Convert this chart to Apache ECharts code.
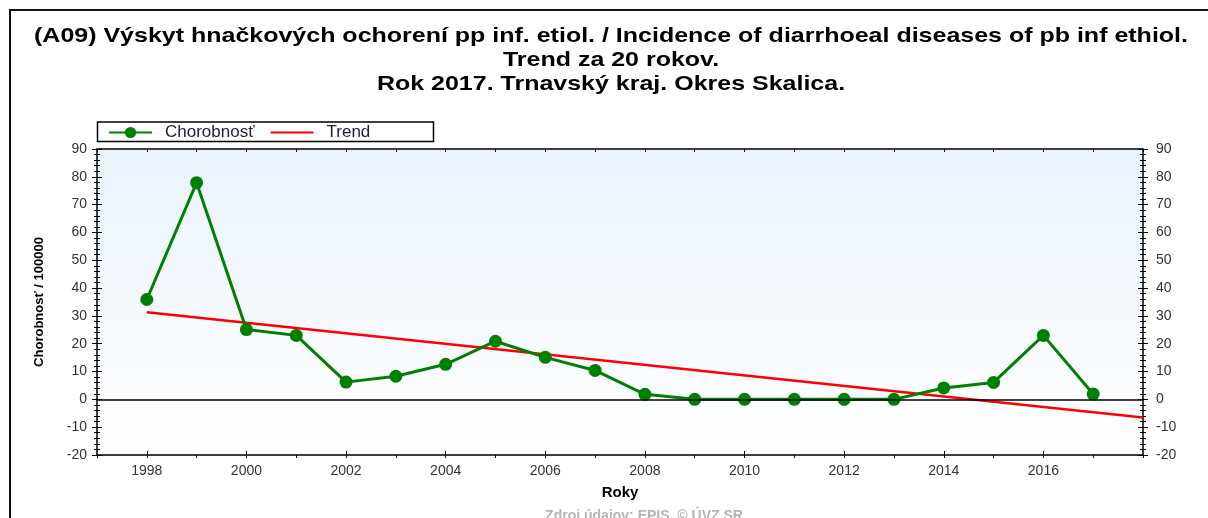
<!DOCTYPE html>
<html>
<head>
<meta charset="utf-8">
<script src="https://cdn.jsdelivr.net/npm/echarts@6/dist/echarts.min.js"></script>
<style>
  html, body { margin: 0; padding: 0; background: #fff; }
  #chart { width: 1208px; height: 518px; }
</style>
</head>
<body>
<div id="chart"></div>
<script>
var chart = echarts.init(document.getElementById('chart'));

// values
const years = [1998, 1999, 2000, 2001, 2002, 2003, 2004, 2005, 2006, 2007,
               2008, 2009, 2010, 2011, 2012, 2013, 2014, 2015, 2016, 2017];
const chorobnost = [35.9, 77.9, 25.1, 23.0, 6.2, 8.3, 12.6, 20.9, 15.1, 10.4,
                    1.8, 0, 0, 0, 0, 0, 4.1, 6.1, 23.0, 1.9];
const trendYears = [1998, 2018];
const trendValues = [31.3, -6.5];
const yearLabels = [1998, 2000, 2002, 2004, 2006, 2008, 2010, 2012, 2014, 2016];

const titleText = '(A09) Výskyt hnačkových ochorení pp inf. etiol. / Incidence of diarrhoeal diseases of pb inf ethiol.\nTrend za 20 rokov.\nRok 2017. Trnavský kraj. Okres Skalica.';
const font = 'Arial, "Liberation Sans", sans-serif';

const yBase = {
  min: -20,
  max: 90,
  interval: 10,
  splitLine: { show: false },
  axisLine: { show: true, lineStyle: { color: '#000', width: 1.5 } },
  minorTick: { show: true, splitNumber: 5, length: 3, lineStyle: { color: '#000' } },
  minorSplitLine: { show: false }
};

var option = {
  animation: false,
  legend: {
    left: 103,
    top: 119,
    itemWidth: 43,
    itemHeight: 14,
    itemGap: 15,
    data: ['Chorobnosť', { name: 'Trend', itemStyle: { color: 'rgba(0,0,0,0)', borderWidth: 0 } }],
    textStyle: { fontFamily: font, fontSize: 17, color: '#1c1c3c', padding: [0, 0, 0, 8] }
  },
  grid: {
    left: 97,
    right: 65,
    top: 149,
    bottom: 63,
    show: true,
    borderWidth: 0,
    backgroundColor: {
      type: 'linear', x: 0, y: 0, x2: 0, y2: 1,
      colorStops: [{ offset: 0, color: '#eaf3fd' }, { offset: 1, color: '#ffffff' }]
    }
  },
  xAxis: [
    {
      type: 'value',
      position: 'bottom',
      min: 1997,
      max: 2018,
      interval: 1,
      splitLine: { show: false },
      axisLine: { show: true, onZero: false, lineStyle: { color: '#000', width: 1.5 } },
      axisTick: { show: true, length: 3, lineStyle: { color: '#000' } },
      axisLabel: {
        customValues: yearLabels,
        formatter: v => String(v),
        fontFamily: font, fontSize: 14, color: '#333', margin: 9
      },
      name: 'Roky',
      nameLocation: 'middle',
      nameGap: 30,
      nameTextStyle: { fontFamily: font, fontSize: 15, fontWeight: 'bold', color: '#000' }
    },
    {
      type: 'value',
      position: 'bottom',
      min: 1997,
      max: 2018,
      splitLine: { show: false },
      axisLine: { show: false, onZero: false },
      axisTick: { show: true, inside: true, length: 4, customValues: yearLabels, lineStyle: { color: '#000' } },
      axisLabel: { show: false }
    },
    {
      type: 'value',
      position: 'top',
      min: 1997,
      max: 2018,
      interval: 1,
      splitLine: { show: false },
      axisLine: { show: true, onZero: false, lineStyle: { color: '#000', width: 1.5 } },
      axisTick: { show: true, inside: true, length: 3, lineStyle: { color: '#000' } },
      axisLabel: { show: false }
    }
  ],
  yAxis: [
    Object.assign({}, yBase, {
      type: 'value',
      position: 'left',
      axisTick: { show: true, length: 5, lineStyle: { color: '#000' } },
      axisLabel: { fontFamily: font, fontSize: 14, color: '#333', margin: 10 },
      name: 'Chorobnosť / 100000',
      nameLocation: 'middle',
      nameGap: 51,
      nameTextStyle: { fontFamily: font, fontSize: 13, fontWeight: 'bold', color: '#000' }
    }),
    Object.assign({}, yBase, {
      type: 'value',
      position: 'left',
      axisLine: { show: false },
      axisTick: { show: true, inside: true, length: 5, lineStyle: { color: '#000' } },
      axisLabel: { show: false }
    }),
    Object.assign({}, yBase, {
      type: 'value',
      position: 'right',
      axisTick: { show: true, length: 5, lineStyle: { color: '#000' } },
      axisLabel: { fontFamily: font, fontSize: 14, color: '#333', margin: 13 }
    }),
    Object.assign({}, yBase, {
      type: 'value',
      position: 'right',
      axisLine: { show: false },
      axisTick: { show: true, inside: true, length: 5, lineStyle: { color: '#000' } },
      axisLabel: { show: false }
    })
  ],
  series: [
    {
      name: 'Chorobnosť',
      type: 'line',
      data: years.map((y, i) => [y, chorobnost[i]]),
      symbol: 'circle',
      symbolSize: 13,
      color: '#008000',
      lineStyle: { width: 3, color: '#008000' },
      z: 3,
      markLine: {
        silent: true,
        symbol: 'none',
        label: { show: false },
        lineStyle: { color: '#000', width: 1.5, type: 'solid' },
        data: [{ yAxis: 0 }]
      }
    },
    {
      name: 'Trend',
      type: 'line',
      data: trendYears.map((y, i) => [y, trendValues[i]]),
      symbol: 'none',
      color: '#ff0000',
      lineStyle: { width: 2.5, color: '#ff0000' },
      z: 2
    }
  ],
  graphic: [
    {
      // title, the reference text is stretched horizontally
      type: 'text',
      x: 611,
      y: 24,
      scaleX: 1.19,
      style: {
        text: titleText,
        fill: '#000',
        font: 'bold 21px ' + font,
        lineHeight: 24,
        align: 'center',
        verticalAlign: 'top'
      }
    },
    {
      type: 'polyline',
      shape: { points: [[10, 518], [10, 10], [1208, 10]] },
      style: { stroke: '#111', lineWidth: 2, fill: null }
    },
    {
      type: 'rect',
      shape: { x: 97.5, y: 122, width: 336, height: 19.5 },
      style: { stroke: '#000', lineWidth: 1.5, fill: null }
    },
    {
      type: 'text',
      x: 644,
      y: 516,
      style: {
        text: 'Zdroj údajov: EPIS, © ÚVZ SR',
        fill: '#b4b4b4',
        font: 'bold 14px ' + font,
        align: 'center',
        verticalAlign: 'middle'
      }
    }
  ]
};

chart.setOption(option);
</script>
</body>
</html>
